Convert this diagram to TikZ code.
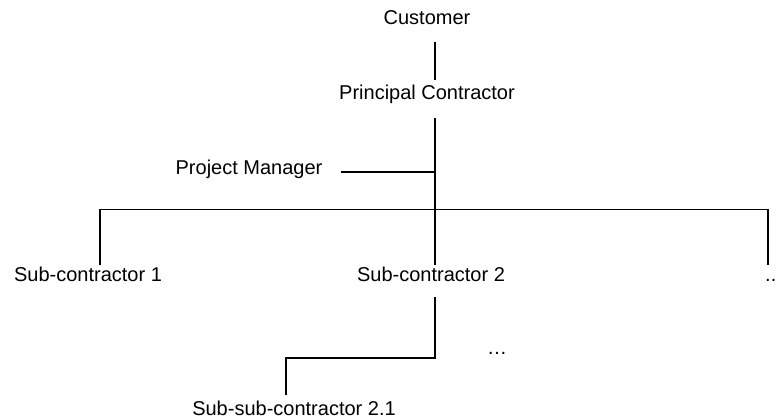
\documentclass[tikz,border=0pt]{standalone}
\usepackage{fontspec}
\setmainfont{Liberation Sans}
\usetikzlibrary{positioning}

\begin{document}
\begin{tikzpicture}[x=1pt, y=-1pt,
    lbl/.style={font=\fontsize{20}{24}\selectfont, inner sep=0pt, anchor=base, text height=14.5pt, text depth=0pt},
    link/.style={line width=1.6pt},
]
  \useasboundingbox (0,0) rectangle (779,419);

  % people and firms
  \node[lbl] (cust) at (427,25) {Customer};
  \node[lbl] (pc) at (427,100) {Principal Contractor};
  \node[lbl] (pm) at (249,175) {Project Manager};
  \node[lbl] (sc1) at (88,282) {Sub-contractor 1};
  \node[lbl] (sc2) at (431,282) {Sub-contractor 2};
  \node[lbl, anchor=base west] (more) at (765,282) {..};
  \node[lbl] (etc) at (497,355) {…};
  \node[lbl] (ssc) at (294,416) {Sub-sub-contractor 2.1};

  % junctions
  \coordinate (pmj) at (435,172);
  \coordinate (bus) at (435,209.5);
  \coordinate (busL) at (100,209.5);
  \coordinate (busR) at (768,209.5);
  \coordinate (sc2j) at (435,358);
  \coordinate (sscj) at (286,358);

  % chain of contract
  \draw[link] ([yshift=-17pt]cust.base -| bus) -- ([yshift=20pt]pc.base -| bus);
  \draw[link] ([yshift=-18pt]pc.base -| bus) -- (bus);
  \draw[link] ([xshift=18pt, yshift=3pt]pm.base east) -- (pmj);
  \draw[link] ([yshift=2pt]sc1.north -| busL) -- (busL) -- (busR) -- ([yshift=2pt]more.north -| busR);
  \draw[link] (bus) -- ([yshift=2pt]sc2.north -| bus);
  \draw[link] ([yshift=-15pt]sc2.base -| sc2j) -- (sc2j) -- (sscj) -- ([yshift=6.5pt]ssc.north -| sscj);
\end{tikzpicture}
\end{document}
